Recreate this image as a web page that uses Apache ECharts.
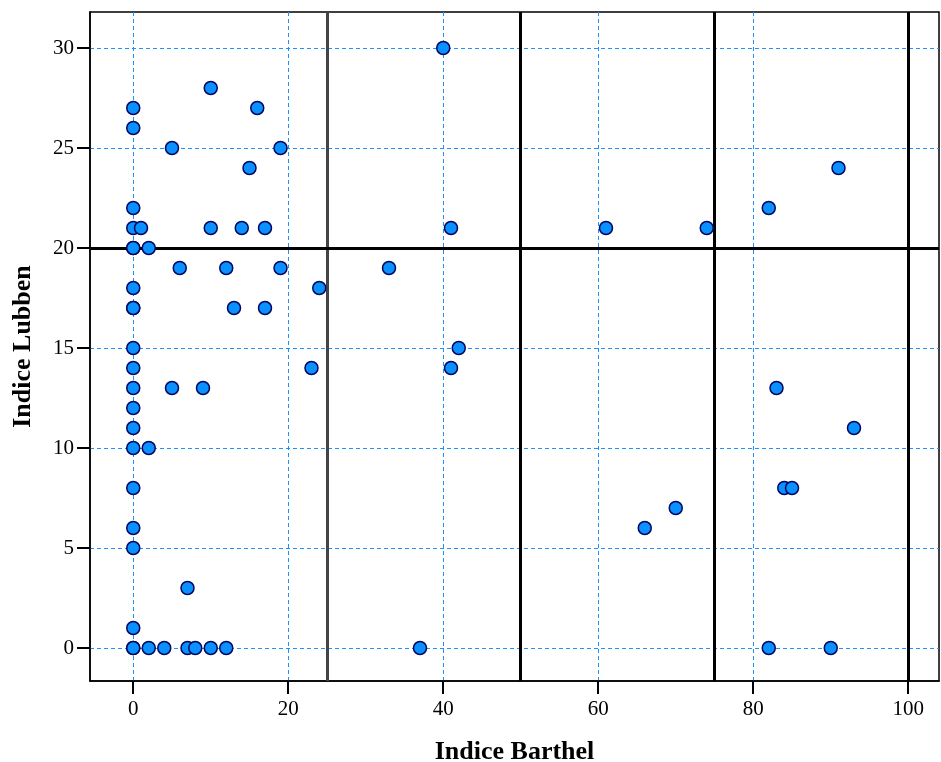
<!DOCTYPE html>
<html>
<head>
<meta charset="utf-8">
<script src="https://cdn.jsdelivr.net/npm/echarts@6/dist/echarts.min.js"></script>
<style>html,body{margin:0;padding:0;background:#fff}#c{width:941px;height:762px}</style>
</head>
<body>
<div id="c"></div>
<script>
// Indice Barthel (x) and Indice Lubben (y) pairs
const barthel = [10,0,16,0,5,19,15,0,0,1,10,14,17,0,0,2,6,12,19,24,0,0,0,13,17,
  0,0,23,0,5,9,0,0,0,2,0,0,0,7,0,0,0,2,4,7,8,10,12,
  40,33,41,61,74,82,91,42,41,83,93,84,85,70,66,37,82,90];
const lubben = [28,27,27,26,25,25,24,22,21,21,21,21,21,20,20,20,19,19,19,18,18,17,17,17,17,
  15,14,14,13,13,13,12,11,10,10,8,6,5,3,1,0,0,0,0,0,0,0,0,
  30,19,21,21,21,22,24,15,14,13,11,8,8,7,6,0,0,0];
const xTicks = [0,20,40,60,80,100];
const yTicks = [0,5,10,15,20,25,30];
const vLines = [25,50,75,100];
const hLines = [20];

const points = barthel.map((x,i)=>[x,lubben[i]]);
const serif = 'Liberation Serif';
const chart = echarts.init(document.getElementById('c'));
chart.setOption({
  animation:false,
  grid:{left:90,right:2,top:12,bottom:81,show:true,borderColor:'#000',borderWidth:1.5,outerBoundsMode:'none',containLabel:false},
  xAxis:{type:'value',min:-5.580645,max:103.967742,
    name:'Indice Barthel',nameLocation:'middle',nameGap:58,
    nameTextStyle:{fontFamily:serif,fontWeight:'bold',fontSize:26,color:'#000'},
    axisLine:{onZero:false,lineStyle:{color:'#000',width:1.5}},
    axisTick:{show:true,length:13,lineStyle:{color:'#000',width:2},customValues:xTicks},
    axisLabel:{fontFamily:serif,fontSize:21,color:'#000',margin:18,customValues:xTicks},
    splitLine:{show:true,lineStyle:{color:'#1e90ff',type:[4,3],width:1}}
  },
  yAxis:{type:'value',min:-1.65,max:31.8,
    name:'Indice Lubben',nameLocation:'middle',nameGap:54,
    nameTextStyle:{fontFamily:serif,fontWeight:'bold',fontSize:26,color:'#000'},
    axisLine:{onZero:false,lineStyle:{color:'#000',width:1.5}},
    axisTick:{show:true,length:13,lineStyle:{color:'#000',width:2},customValues:yTicks},
    axisLabel:{fontFamily:serif,fontSize:21,color:'#000',margin:16,customValues:yTicks},
    splitLine:{show:true,lineStyle:{color:'#1e90ff',type:[4,3],width:1}}
  },
  series:[
    {type:'scatter',data:[],silent:true,z:2,
      markLine:{symbol:'none',silent:true,label:{show:false},animation:false,
        data:[
          ...vLines.map(v=>({xAxis:v,lineStyle:{color:v===25?'#444':'#000',width:3,type:'solid'}})),
          ...hLines.map(v=>({yAxis:v,lineStyle:{color:'#000',width:3,type:'solid'}}))
        ]}},
    {type:'scatter',data:points,symbol:'circle',symbolSize:13,z:5,
      itemStyle:{color:'#0a90ff',borderColor:'#00085e',borderWidth:1.5,opacity:1}}
  ]
});
</script>
</body>
</html>
